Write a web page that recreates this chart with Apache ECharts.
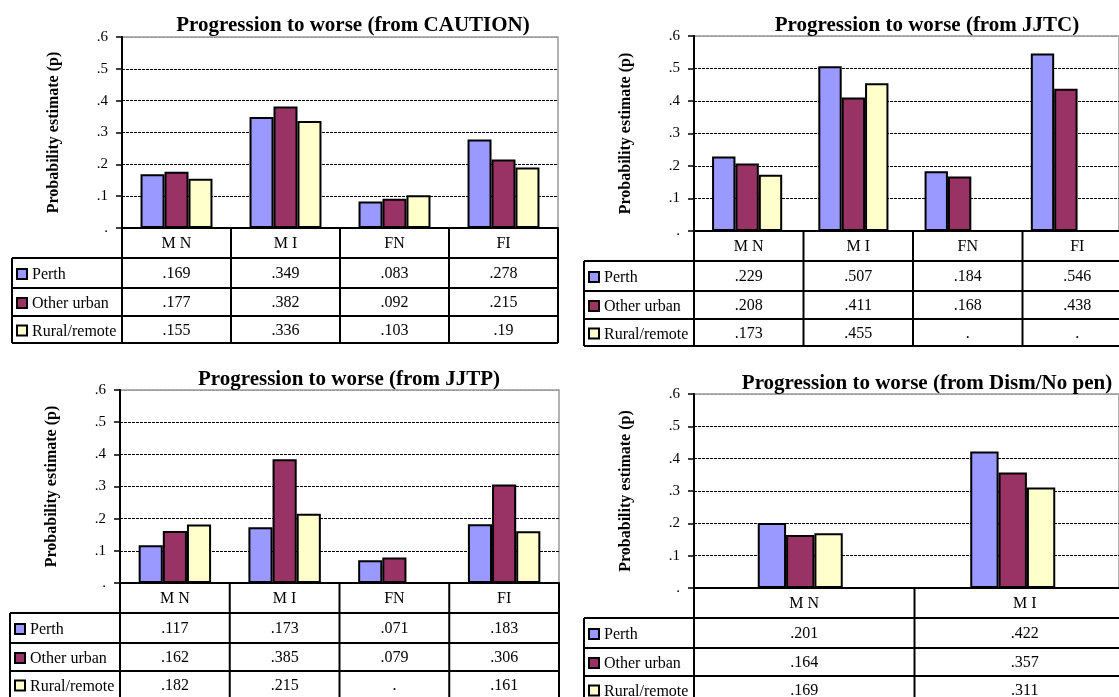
<!DOCTYPE html>
<html>
<head>
<meta charset="utf-8">
<script src="https://cdn.jsdelivr.net/npm/echarts@6/dist/echarts.min.js"></script>
<style>
html,body{margin:0;padding:0;background:#fff;}
#chart{width:1119px;height:697px;}
</style>
</head>
<body>
<div id="chart"></div>
<script>
// ---- data ----
const seriesNames = ['Perth', 'Other urban', 'Rural/remote'];
const categories4 = ['M N', 'M I', 'FN', 'FI'];
const categories2 = ['M N', 'M I'];
const yTickLabels = ['.', '.1', '.2', '.3', '.4', '.5', '.6'];
const titles = [
  'Progression to worse (from CAUTION)',
  'Progression to worse (from JJTC)',
  'Progression to worse (from JJTP)',
  'Progression to worse (from Dism/No pen)'
];
const yAxisName = 'Probability estimate (p)';

const cautionPerth = [0.169, 0.349, 0.083, 0.278];
const cautionOther = [0.177, 0.382, 0.092, 0.215];
const cautionRural = [0.155, 0.336, 0.103, 0.19];

const jjtcPerth = [0.229, 0.507, 0.184, 0.546];
const jjtcOther = [0.208, 0.411, 0.168, 0.438];
const jjtcRural = [0.173, 0.455, null, null];

const jjtpPerth = [0.117, 0.173, 0.071, 0.183];
const jjtpOther = [0.162, 0.385, 0.079, 0.306];
const jjtpRural = [0.182, 0.215, null, 0.161];

const dismPerth = [0.201, 0.422];
const dismOther = [0.164, 0.357];
const dismRural = [0.169, 0.311];

// ---- layout / style ----
const colors = ['#9999FF', '#993366', '#FFFFCC'];
const FONT = '"Liberation Serif", "Times New Roman", serif';
const panels = [
  {cats: categories4, data: [cautionPerth, cautionOther, cautionRural], left: 122, top: 37, width: 436, height: 191, tableLeft: 12, titleX: 353, titleTop: 15, gap: '34%'},
  {cats: categories4, data: [jjtcPerth, jjtcOther, jjtcRural], left: 694, top: 36, width: 438, height: 195, tableLeft: 584, titleX: 927, titleTop: 15, gap: '34%'},
  {cats: categories4, data: [jjtpPerth, jjtpOther, jjtpRural], left: 120, top: 390, width: 439, height: 193, tableLeft: 10, titleX: 349, titleTop: 369, gap: '34%'},
  {cats: categories2, data: [dismPerth, dismOther, dismRural], left: 694, top: 394, width: 441, height: 194, tableLeft: 584, titleX: 927, titleTop: 373, gap: '60%'}
];
const rowOffsets = [0, 30, 60, 88, 115];

function fmt(v) {
  if (v === null || v === undefined) return '.';
  return String(v).replace(/^0/, '');
}

const chart = echarts.init(document.getElementById('chart'), null, {renderer: 'canvas'});

const option = {
  backgroundColor: '#ffffff',
  animation: false,
  title: [],
  grid: [],
  xAxis: [],
  yAxis: [],
  series: [],
  graphic: []
};

panels.forEach((p, i) => {
  option.title.push({
    text: titles[i], left: p.titleX, top: p.titleTop, textAlign: 'center', padding: 0,
    textStyle: {fontFamily: FONT, fontSize: 21, fontWeight: 'bold', color: '#000'}
  });
  option.grid.push({
    left: p.left, top: p.top, width: p.width, height: p.height,
    show: true, borderColor: '#999', borderWidth: 1.5, backgroundColor: 'transparent'
  });
  option.xAxis.push({
    type: 'category', gridIndex: i, data: p.cats,
    axisLine: {show: true, lineStyle: {color: '#000', width: 2}},
    axisTick: {show: false}, axisLabel: {show: false}, splitLine: {show: false}
  });
  option.yAxis.push({
    type: 'value', gridIndex: i, min: 0, max: 0.6, interval: 0.1,
    name: yAxisName, nameLocation: 'middle', nameGap: 60,
    nameTextStyle: {fontFamily: FONT, fontSize: 16, fontWeight: 'bold', color: '#000'},
    axisLine: {show: true, lineStyle: {color: '#000', width: 2}},
    axisTick: {show: true, length: 6, lineStyle: {color: '#000', width: 1.5}},
    axisLabel: {margin: 14, fontFamily: FONT, fontSize: 15, color: '#000',
      formatter: (v, idx) => yTickLabels[idx]},
    splitLine: {show: true, lineStyle: {type: [3, 1], width: 1,
      color: ['#000', '#000', '#000', '#000', '#000', '#000', '#999']}}
  });
  p.data.forEach((arr, s) => {
    option.series.push({
      type: 'bar', name: seriesNames[s], xAxisIndex: i, yAxisIndex: i,
      data: arr, barGap: '0%', barCategoryGap: p.gap,
      itemStyle: {color: colors[s], borderColor: '#000', borderWidth: 2},
      z: 3
    });
  });

  // ---- data table under each chart ----
  const y0 = p.top + p.height;
  const right = p.left + p.width;
  const n = p.cats.length;
  const cw = p.width / n;
  const line = (x1, y1, x2, y2) => ({
    type: 'line', z: 100, silent: true,
    shape: {x1, y1, x2, y2},
    style: {stroke: '#000', lineWidth: 2}
  });
  for (let k = 0; k <= n; k++) {
    const x = p.left + k * cw;
    option.graphic.push(line(x, y0, x, y0 + rowOffsets[4]));
  }
  for (let r = 1; r < rowOffsets.length; r++) {
    option.graphic.push(line(p.tableLeft, y0 + rowOffsets[r], right, y0 + rowOffsets[r]));
  }
  option.graphic.push(line(p.tableLeft, y0 + rowOffsets[1], p.tableLeft, y0 + rowOffsets[4]));
  // header labels
  p.cats.forEach((c, k) => {
    option.graphic.push({
      type: 'text', z: 100, silent: true,
      x: p.left + (k + 0.5) * cw, y: y0 + (rowOffsets[0] + rowOffsets[1]) / 2 + 1,
      style: {text: c, fill: '#000', font: '16px ' + FONT, textAlign: 'center', textVerticalAlign: 'middle'}
    });
  });
  // rows
  seriesNames.forEach((nm, s) => {
    const cy = y0 + (rowOffsets[s + 1] + rowOffsets[s + 2]) / 2 + 1;
    option.graphic.push({
      type: 'rect', z: 100, silent: true,
      shape: {x: p.tableLeft + 5, y: cy - 5, width: 10, height: 10},
      style: {fill: colors[s], stroke: '#000', lineWidth: 2}
    });
    option.graphic.push({
      type: 'text', z: 100, silent: true,
      x: p.tableLeft + 20, y: cy + 1,
      style: {text: nm, fill: '#000', font: '16px ' + FONT, textAlign: 'left', textVerticalAlign: 'middle'}
    });
    p.data[s].forEach((v, k) => {
      option.graphic.push({
        type: 'text', z: 100, silent: true,
        x: p.left + (k + 0.5) * cw, y: cy,
        style: {text: fmt(v), fill: '#000', font: '16px ' + FONT, textAlign: 'center', textVerticalAlign: 'middle'}
      });
    });
  });
});

chart.setOption(option);
</script>
</body>
</html>
